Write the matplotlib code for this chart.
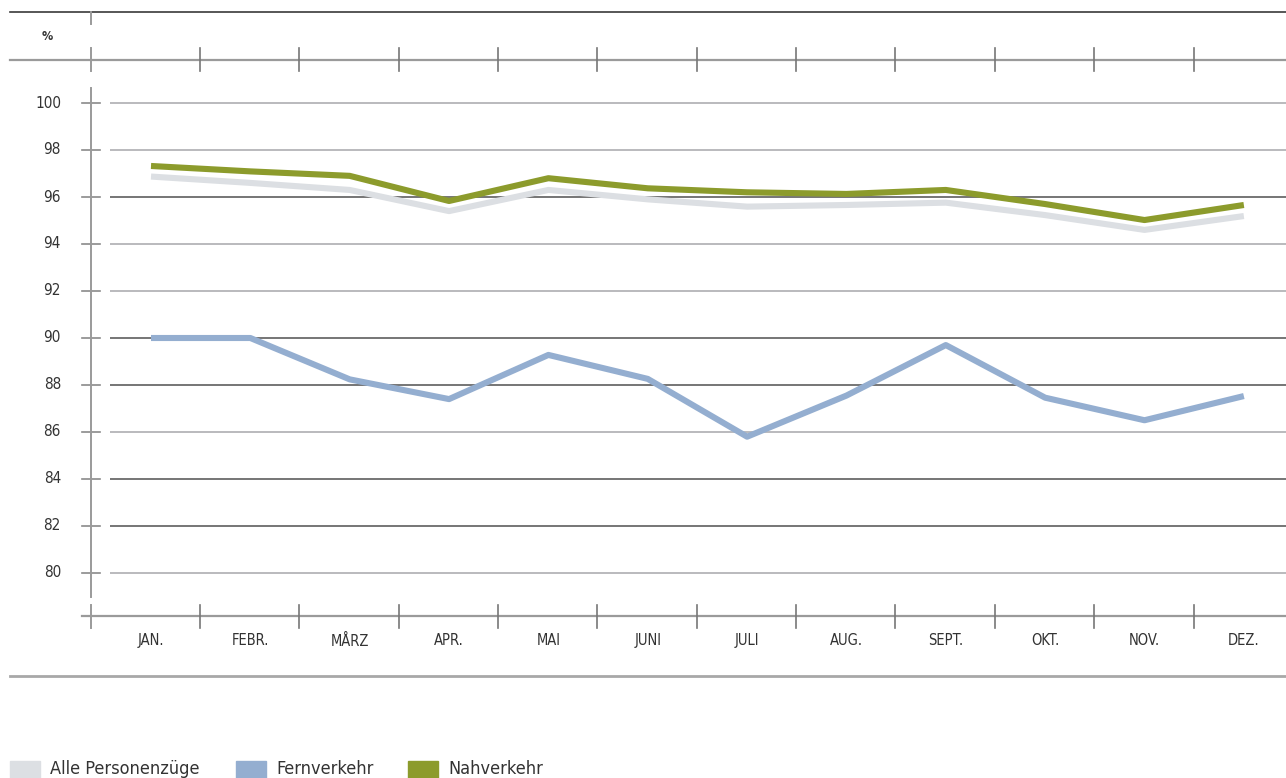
import numpy as np
import matplotlib
matplotlib.use("Agg")
import matplotlib.pyplot as plt
from matplotlib.patches import Rectangle

plt.rcParams['font.family'] = ['DejaVu Sans']
plt.rcParams['font.stretch'] = 'condensed'

# data
months = ['JAN.', 'FEBR.', 'MÅRZ', 'APR.', 'MAI', 'JUNI', 'JULI', 'AUG.',
          'SEPT.', 'OKT.', 'NOV.', 'DEZ.']
alle = [96.87, 96.6, 96.3, 95.4, 96.3, 95.9, 95.59, 95.66, 95.76, 95.23, 94.6, 95.19]
fern = [90.0, 90.0, 88.24, 87.4, 89.28, 88.26, 85.8, 87.55, 89.7, 87.46, 86.5, 87.53]
nah = [97.32, 97.09, 96.9, 95.83, 96.8, 96.37, 96.2, 96.13, 96.3, 95.7, 95.02, 95.66]
yticks = [80, 82, 84, 86, 88, 90, 92, 94, 96, 98, 100]
dark_grid = [82, 84, 88, 90, 96]

series = [('Alle Personenzüge', alle, '#dcdfe3'),
          ('Fernverkehr', fern, '#94aed0'),
          ('Nahverkehr', nah, '#8c9b2c')]

W, H = 1286, 778
fig = plt.figure(figsize=(W / 100, H / 100), dpi=100)


def fx(px):
    return px / W


def fy(py):
    return 1 - py / H


# main axes: pixel x 91..1286, pixel y 60..616
ax = fig.add_axes([fx(91), fy(616), fx(1286 - 91), (616 - 60) / H])
x = np.arange(len(months))
# month i centred at 151 + 99.35*i px
ax.set_xlim(-60 / 99.35, (1286 - 151) / 99.35)
ax.set_ylim(100 - (616 - 103) / 23.5, 100 + (103 - 60) / 23.5)
for s in ax.spines.values():
    s.set_visible(False)
ax.set_xticks([])
ax.set_yticks([])

x0, x1 = ax.get_xlim()
gap_start = x0 + 19 / 99.35
tick_l, tick_r = x0 - 9 / 99.35, x0 + 9 / 99.35
for v in yticks:
    c = '#6a6a6a' if v in dark_grid else '#b4b4b8'
    ax.plot([gap_start, x1], [v, v], color=c, lw=1.3, zorder=1, solid_capstyle='butt')
    ax.plot([tick_l, tick_r], [v, v], color='#8a8a8a', lw=1.2, clip_on=False)
    ax.text(x0 - 30 / 99.35, v, str(v), ha='right', va='center', fontsize=11,
            color='#333333')

for name, vals, col in series:
    ax.plot(x, vals, color=col, lw=4.4, solid_capstyle='butt', zorder=3)


# frame lines in figure coordinates
def hline(py, xa, xb, color, lw):
    fig.add_artist(plt.Line2D([fx(xa), fx(xb)], [fy(py), fy(py)], color=color, lw=lw))


def vline(px, ya, yb, color, lw):
    fig.add_artist(plt.Line2D([fx(px), fx(px)], [fy(ya), fy(yb)], color=color, lw=lw))


hline(12, 10, 1286, '#3a3a3a', 1.2)
hline(60, 10, 1286, '#9a9a9a', 1.6)
hline(616, 82, 1286, '#9a9a9a', 1.6)
hline(676, 10, 1286, '#a8a8a8', 2.0)
for ya, yb in [(12, 24), (48, 71), (88, 597), (605, 628)]:
    vline(91, ya, yb, '#9a9a9a', 1.4)

bounds = [200 + 99.35 * i for i in range(11)]
for b in bounds:
    vline(b, 48, 71, '#777777', 1.2)
    vline(b, 605, 628, '#777777', 1.2)

for i, m in enumerate(months):
    ax.text(i, ax.get_ylim()[0] - 25 / 23.5, m, ha='center', va='center',
            fontsize=10.5, color='#333333', clip_on=False)

fig.text(fx(47), fy(37), '%', ha='center', va='center', fontsize=9,
         color='#333333', fontweight='bold')

# legend
lx = [10, 236, 408]
for (name, vals, col), px in zip(series, lx):
    fig.add_artist(Rectangle((fx(px), fy(778)), fx(30), 17 / H, color=col,
                             transform=fig.transFigure))
    fig.text(fx(px + 40), fy(769), name, ha='left', va='center', fontsize=13,
             color='#333333')

fig.savefig('out.png', dpi=100, facecolor='white')
